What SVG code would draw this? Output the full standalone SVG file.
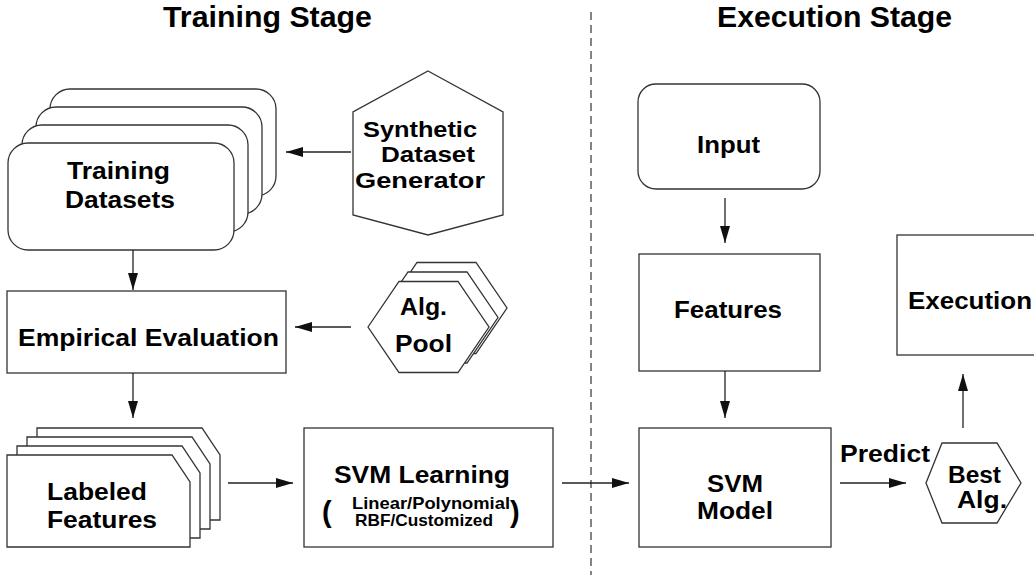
<svg xmlns="http://www.w3.org/2000/svg" width="1034" height="575" viewBox="0 0 1034 575">
  <style>
    .shape { fill: #ffffff; stroke: #333333; stroke-width: 1.3; }
    .label { font-family: "Liberation Sans", Arial, Helvetica, sans-serif; font-weight: bold; fill: #000000; }
    .title { font-size: 29px; }
    .body { font-size: 23px; }
    .tight { font-size: 22px; }
    .small { font-size: 17px; }
    .paren { font-size: 29px; }
    .link { fill: none; stroke: #222222; stroke-width: 1.3; }
    .divider { fill: none; stroke: #333333; stroke-width: 1.2; stroke-dasharray: 8 5; }
  </style>
  <defs>
    <marker id="arrow" markerUnits="userSpaceOnUse" markerWidth="17" markerHeight="10" refX="17" refY="5" orient="auto">
      <path d="M0,0 L17,5 L0,10 Z" fill="#111111"/>
    </marker>
  </defs>

  <rect width="1034" height="575" fill="#ffffff"/>

  <!-- stage headings and divider -->
  <g id="headings">
    <text class="label title" x="163" y="27" textLength="209" lengthAdjust="spacingAndGlyphs">Training Stage</text>
    <text class="label title" x="717" y="27" textLength="235" lengthAdjust="spacingAndGlyphs">Execution Stage</text>
    <line class="divider" x1="591" y1="12" x2="591" y2="575"/>
  </g>

  <!-- stacked training dataset cards -->
  <g id="training-datasets">
    <rect class="shape" x="50" y="89" width="226" height="107" rx="20"/>
    <rect class="shape" x="36" y="107" width="226" height="107" rx="20"/>
    <rect class="shape" x="22" y="125" width="226" height="107" rx="20"/>
    <rect class="shape" x="8" y="143" width="226" height="107" rx="20"/>
    <text class="label body" x="67" y="179" textLength="103" lengthAdjust="spacingAndGlyphs">Training</text>
    <text class="label body" x="65" y="208" textLength="110" lengthAdjust="spacingAndGlyphs">Datasets</text>
  </g>

  <!-- synthetic dataset generator hexagon -->
  <g id="synthetic-generator">
    <polygon class="shape" points="428,71 503,112 503,215 428,235 353,215 353,112"/>
    <text class="label tight" x="363" y="137" textLength="114" lengthAdjust="spacingAndGlyphs">Synthetic</text>
    <text class="label tight" x="381" y="162" textLength="94" lengthAdjust="spacingAndGlyphs">Dataset</text>
    <text class="label tight" x="355" y="188" textLength="130" lengthAdjust="spacingAndGlyphs">Generator</text>
  </g>

  <!-- empirical evaluation -->
  <g id="empirical-evaluation">
    <rect class="shape" x="7" y="291" width="279" height="82"/>
    <text class="label body" x="18" y="346" textLength="261" lengthAdjust="spacingAndGlyphs">Empirical Evaluation</text>
  </g>

  <!-- algorithm pool: stacked hexagons -->
  <g id="algorithm-pool">
    <polygon class="shape" points="386,308 417,262.5 476,262.5 507,308 476,353.5 417,353.5"/>
    <polygon class="shape" points="377,317.5 408,272 467,272 498,317.5 467,363 408,363"/>
    <polygon class="shape" points="368,327 399,281.5 458,281.5 489,327 458,372.5 399,372.5"/>
    <text class="label body" x="400" y="315" textLength="47" lengthAdjust="spacingAndGlyphs">Alg.</text>
    <text class="label body" x="395" y="352" textLength="57" lengthAdjust="spacingAndGlyphs">Pool</text>
  </g>

  <!-- labeled feature sheets -->
  <g id="labeled-features">
    <path class="shape" d="M37,428 H202 L220,455 V520 H37 Z"/>
    <path class="shape" d="M27,437 H192 L210,464 V529 H27 Z"/>
    <path class="shape" d="M17,446 H182 L200,473 V538 H17 Z"/>
    <path class="shape" d="M7,455 H172 L190,482 V547 H7 Z"/>
    <text class="label body" x="47" y="500" textLength="100" lengthAdjust="spacingAndGlyphs">Labeled</text>
    <text class="label body" x="47" y="528" textLength="110" lengthAdjust="spacingAndGlyphs">Features</text>
  </g>

  <!-- SVM learning -->
  <g id="svm-learning">
    <rect class="shape" x="304" y="428" width="249" height="119"/>
    <text class="label body" x="334" y="483" textLength="176" lengthAdjust="spacingAndGlyphs">SVM Learning</text>
    <text class="label paren" x="322" y="522">(</text>
    <text class="label small" x="352" y="509" textLength="158" lengthAdjust="spacingAndGlyphs">Linear/Polynomial</text>
    <text class="label small" x="355" y="526" textLength="138" lengthAdjust="spacingAndGlyphs">RBF/Customized</text>
    <text class="label paren" x="510" y="522">)</text>
  </g>

  <!-- execution side -->
  <g id="input">
    <rect class="shape" x="638" y="84" width="182" height="105" rx="18"/>
    <text class="label body" x="697" y="153" textLength="63" lengthAdjust="spacingAndGlyphs">Input</text>
  </g>

  <g id="features">
    <rect class="shape" x="639" y="254" width="181" height="117"/>
    <text class="label body" x="674" y="318" textLength="108" lengthAdjust="spacingAndGlyphs">Features</text>
  </g>

  <g id="svm-model">
    <rect class="shape" x="639" y="428" width="192" height="119"/>
    <text class="label body" x="707" y="492" textLength="56" lengthAdjust="spacingAndGlyphs">SVM</text>
    <text class="label body" x="697" y="519" textLength="76" lengthAdjust="spacingAndGlyphs">Model</text>
  </g>

  <g id="best-algorithm">
    <polygon class="shape" points="926,483 942,443 997,443 1021,483 997,523 942,523"/>
    <text class="label body" x="948" y="483" textLength="53" lengthAdjust="spacingAndGlyphs">Best</text>
    <text class="label body" x="957" y="508" textLength="50" lengthAdjust="spacingAndGlyphs">Alg.</text>
  </g>

  <g id="execution">
    <rect class="shape" x="897" y="235" width="150" height="120"/>
    <text class="label body" x="908" y="309" textLength="124" lengthAdjust="spacingAndGlyphs">Execution</text>
  </g>

  <!-- connectors -->
  <g id="connectors">
    <line class="link" x1="351" y1="152" x2="286" y2="152" marker-end="url(#arrow)"/>
    <line class="link" x1="133" y1="250" x2="133" y2="290" marker-end="url(#arrow)"/>
    <line class="link" x1="351" y1="327" x2="295" y2="327" marker-end="url(#arrow)"/>
    <line class="link" x1="133" y1="373" x2="133" y2="418" marker-end="url(#arrow)"/>
    <line class="link" x1="228" y1="483" x2="293" y2="483" marker-end="url(#arrow)"/>
    <line class="link" x1="562" y1="483" x2="629" y2="483" marker-end="url(#arrow)"/>
    <line class="link" x1="725" y1="198" x2="725" y2="243" marker-end="url(#arrow)"/>
    <line class="link" x1="725" y1="371" x2="725" y2="418" marker-end="url(#arrow)"/>
    <line class="link" x1="840" y1="483" x2="906" y2="483" marker-end="url(#arrow)"/>
    <line class="link" x1="963" y1="428" x2="963" y2="374" marker-end="url(#arrow)"/>
    <text class="label body" x="840" y="462" textLength="90" lengthAdjust="spacingAndGlyphs">Predict</text>
  </g>
</svg>
